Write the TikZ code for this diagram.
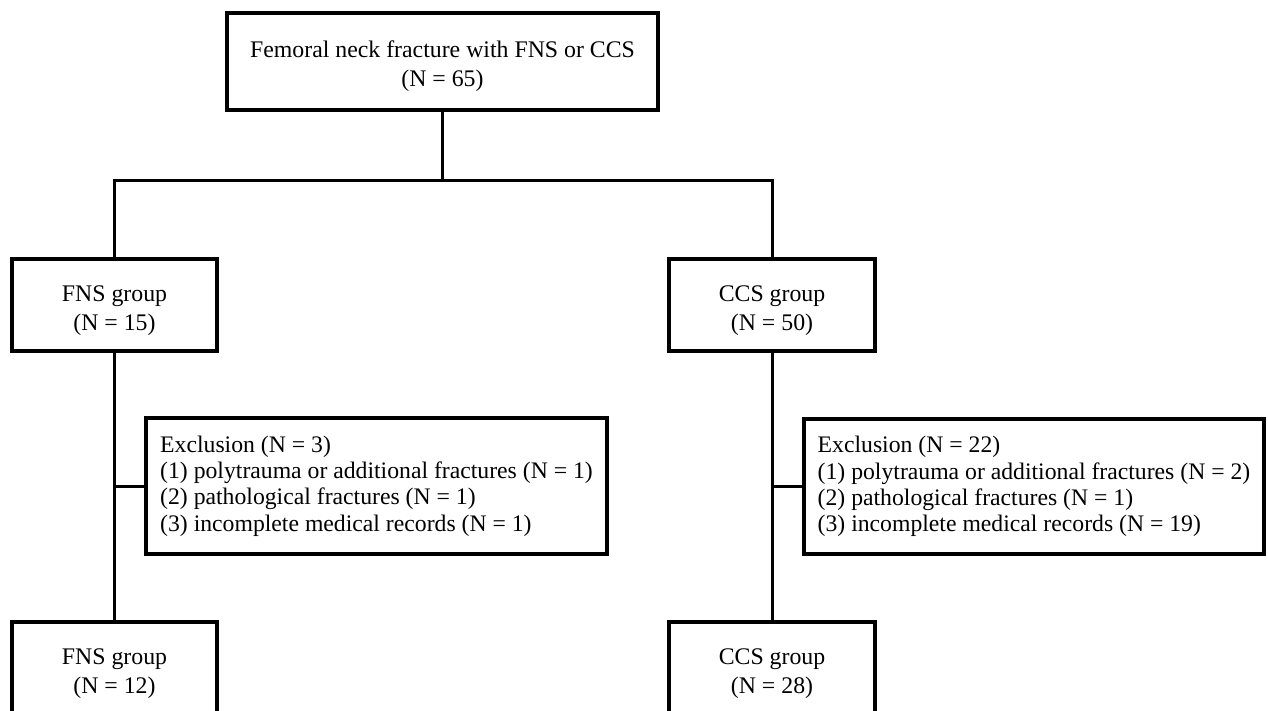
\documentclass[tikz,border=0pt]{standalone}
\usepackage{fontspec}
\setmainfont{Liberation Serif}
\newcommand{\tallstrut}{\rule{0pt}{27pt}}
\begin{document}
\begin{tikzpicture}[x=1pt,y=-1pt,
  box/.style={draw, line width=3.5pt, align=center, inner sep=0pt, line join=miter,
    font=\fontsize{23.8}{29}\selectfont},
  exbox/.style={draw, line width=3.5pt, align=left, inner sep=0pt, line join=miter,
    font=\fontsize{23.7}{26.4}\selectfont},
  link/.style={line width=3pt, line join=miter}]
\clip (0,0) rectangle (1268,711);
\node[box, minimum width=431pt, minimum height=97pt] (top) at (442.5,61.5)
  {\tallstrut Femoral neck fracture with FNS or CCS\\(N = 65)};
\node[box, minimum width=205pt, minimum height=92pt] (fns1) at (114.5,305)
  {\tallstrut FNS group\\(N = 15)};
\node[box, minimum width=206pt, minimum height=92pt] (ccs1) at (772,305)
  {\tallstrut CCS group\\(N = 50)};
\node[exbox, minimum width=461pt, minimum height=136pt] (ex1) at (376.5,486)
  {Exclusion (N = 3)\\(1) polytrauma or additional fractures (N = 1)\\(2) pathological fractures (N = 1)\\(3) incomplete medical records (N = 1)};
\node[exbox, minimum width=460pt, minimum height=135pt] (ex2) at (1034,486.5)
  {Exclusion (N = 22)\\(1) polytrauma or additional fractures (N = 2)\\(2) pathological fractures (N = 1)\\(3) incomplete medical records (N = 19)};
\node[box, minimum width=205pt, minimum height=92pt] (fns2) at (114.5,668)
  {\tallstrut FNS group\\(N = 12)};
\node[box, minimum width=206pt, minimum height=92pt] (ccs2) at (772,668)
  {\tallstrut CCS group\\(N = 28)};
\coordinate (jl) at (114.5,181);
\coordinate (jr) at (772,181);
\draw[link] (top.south) -- (top.south |- jl);
\draw[link] (fns1.north) -- (jl) -- (jr) -- (ccs1.north);
\draw[link] (fns1.south) -- (fns2.north);
\draw[link] (ccs1.south) -- (ccs2.north);
\draw[link] (ex1.west) -- (ex1.west -| fns1.south);
\draw[link] (ex2.west) -- (ex2.west -| ccs1.south);
\end{tikzpicture}
\end{document}
